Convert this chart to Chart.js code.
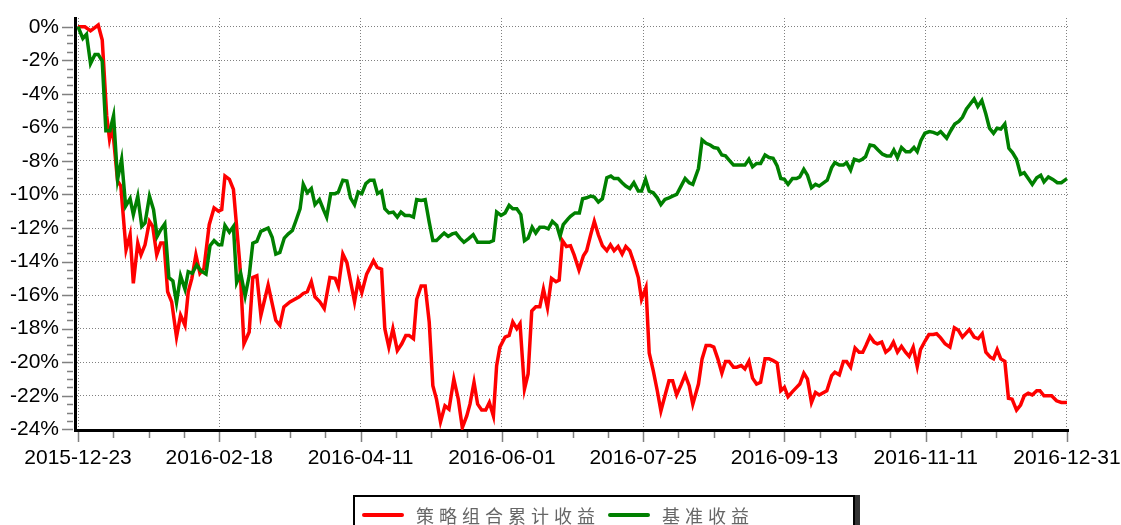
<!DOCTYPE html>
<html>
<head>
<meta charset="utf-8">
<title>累计收益</title>
<script src="https://cdn.jsdelivr.net/npm/chart.js@4.4.1/dist/chart.umd.min.js"></script>
<style>
    html, body { margin: 0; padding: 0; background: #fff; overflow: hidden; }
    #wrap { position: relative; width: 1121px; height: 525px; }
    #legend {
        position: absolute; left: 353px; top: 495px; width: 498px; height: 44px;
        border: 2px solid #000; box-shadow: 5px 0 0 #333; background: #fff;
    }
    #legend .line { position: absolute; top: 16px; width: 42px; height: 4px; border-radius: 2px; }
    #legend .text {
        position: absolute; top: 8px; font: 18px/20px "Noto Sans CJK SC", sans-serif;
        letter-spacing: 5px; color: #666; white-space: nowrap;
    }
</style>
</head>
<body>
<div id="wrap">
    <canvas id="returnChart" width="1121" height="525"></canvas>
    <div id="legend">
        <span class="line" style="left:7px;background:#ff0000"></span>
        <span class="text" style="left:61px">策略组合累计收益</span>
        <span class="line" style="left:253px;background:#008000"></span>
        <span class="text" style="left:307px">基准收益</span>
    </div>
</div>
<script>
// x ticks: trading-day index and date shown under it
const labelDays = [0, 35, 70, 105, 140, 175, 210, 245];
const dateLabels = ['2015-12-23', '2016-02-18', '2016-04-11', '2016-06-01', '2016-07-25', '2016-09-13', '2016-11-11', '2016-12-31'];
const yTicks = [0, -2, -4, -6, -8, -10, -12, -14, -16, -18, -20, -22, -24];

// [day index, cumulative return %]
const redPoints = [
    [0, 0], [1.7, 0], [3.1, -0.25], [5.0, 0.1], [6.0, -0.8], [7.1, -5.3], [7.8, -6.7], [8.5, -5.9],
    [9.8, -9.2], [10.6, -9.5], [11.9, -13.3], [12.9, -12.4], [13.7, -15.3], [14.8, -12.9], [15.6, -13.6],
    [16.6, -13.0], [17.7, -11.6], [18.5, -11.9], [19.5, -13.6], [20.5, -12.9], [21.3, -12.9], [22.2, -15.8],
    [23.2, -16.4], [24.4, -18.5], [25.4, -17.2], [26.5, -17.8], [27.3, -15.8], [28.2, -15.0], [29.2, -13.6],
    [30.2, -14.7], [31.2, -14.4], [32.5, -11.8], [33.7, -10.8], [34.8, -11.0], [35.6, -10.9], [36.4, -8.9],
    [37.5, -9.1], [38.5, -9.7], [40.1, -14.2], [41.1, -18.9], [42.4, -18.2], [43.3, -14.95], [44.3, -14.85],
    [45.3, -17.2], [47.1, -15.4], [49.0, -17.5], [50.0, -17.8], [51.0, -16.7], [52.5, -16.4], [54.8, -16.1],
    [55.8, -15.9], [56.8, -15.8], [57.8, -15.2], [58.7, -16.1], [59.9, -16.4], [61.0, -16.8], [62.4, -14.95],
    [63.7, -15.0], [64.5, -15.5], [65.6, -13.55], [66.6, -14.05], [68.5, -16.4], [69.4, -15.15], [70.3, -15.85],
    [71.5, -14.75], [73.2, -13.95], [74.1, -14.35], [75.2, -14.45], [76.0, -18.0], [77.0, -19.1], [78.0, -18.0],
    [79.1, -19.3], [80.2, -18.9], [81.2, -18.4], [82.0, -18.4], [83.1, -18.6], [83.9, -16.25], [85.0, -15.45],
    [86.0, -15.45], [87.0, -17.6], [87.9, -21.4], [88.8, -22.2], [89.8, -23.55], [90.9, -22.6], [91.9, -22.8],
    [93.1, -21.0], [94.2, -22.2], [95.2, -23.9], [96.3, -23.2], [97.1, -22.5], [98.1, -21.2], [99.0, -22.5],
    [100.0, -22.85], [101.0, -22.85], [101.9, -22.4], [102.9, -23.2], [103.7, -20.2], [104.5, -19.1],
    [105.8, -18.5], [106.8, -18.4], [107.7, -17.6], [108.7, -18.0], [109.5, -17.7], [110.6, -21.6],
    [111.5, -20.7], [112.4, -16.95], [113.4, -16.7], [114.4, -16.7], [115.3, -15.65], [116.3, -16.75],
    [117.3, -15.0], [118.4, -15.2], [119.2, -15.1], [120.0, -12.75], [121.0, -13.1], [122.0, -13.05],
    [122.9, -13.6], [124.1, -14.5], [125.2, -13.65], [126.0, -13.35], [127.0, -12.4], [127.9, -11.6],
    [128.9, -12.4], [129.9, -13.05], [131.0, -13.35], [131.9, -13.0], [132.8, -13.35], [133.8, -13.1],
    [134.8, -13.55], [135.7, -13.1], [136.7, -13.35], [137.7, -14.05], [138.8, -14.95], [139.6, -16.25],
    [140.7, -15.55], [141.5, -19.45], [142.5, -20.5], [143.5, -21.7], [144.4, -22.9], [145.4, -22.0],
    [146.4, -21.1], [147.3, -21.1], [148.3, -21.95], [149.4, -21.35], [150.4, -20.75], [151.4, -21.4],
    [152.3, -22.5], [153.7, -21.3], [154.6, -19.8], [155.6, -19.0], [156.6, -19.0], [157.5, -19.1],
    [158.5, -19.8], [159.5, -20.65], [160.4, -19.95], [161.3, -19.95], [162.4, -20.3], [163.2, -20.3],
    [164.3, -20.2], [165.2, -20.4], [166.2, -19.95], [167.1, -20.95], [168.1, -21.3], [169.1, -21.2],
    [170.2, -19.8], [171.2, -19.8], [172.2, -19.9], [173.2, -20.05], [174.1, -21.7], [175.0, -21.5],
    [175.9, -22.05], [177.0, -21.75], [178.0, -21.5], [178.8, -21.3], [179.8, -20.65], [180.7, -21.0],
    [181.7, -22.4], [182.7, -21.8], [183.6, -21.95], [185.5, -21.7], [186.7, -20.8], [187.5, -20.6],
    [188.6, -20.75], [189.6, -19.95], [190.4, -19.95], [191.4, -20.3], [192.5, -19.15], [193.5, -19.4],
    [194.4, -19.4], [195.2, -19.0], [196.2, -18.45], [197.2, -18.8], [198.0, -18.9], [199.1, -18.8],
    [200.1, -19.4], [201.1, -19.2], [202.0, -18.8], [203.0, -19.4], [204.0, -19.05], [205.0, -19.4],
    [205.9, -19.65], [206.9, -19.1], [207.9, -20.25], [208.7, -19.25], [209.8, -18.75], [210.8, -18.35],
    [211.9, -18.35], [212.7, -18.3], [213.7, -18.55], [214.8, -18.9], [216.0, -19.1], [217.1, -17.95],
    [218.1, -18.1], [219.1, -18.5], [220.8, -18.05], [222.0, -18.5], [223.0, -18.6], [224.0, -18.3],
    [224.9, -19.4], [226.0, -19.7], [226.8, -19.8], [227.7, -19.25], [228.6, -19.8], [229.6, -19.95],
    [230.5, -22.15], [231.4, -22.2], [232.5, -22.85], [233.5, -22.55], [234.4, -22.0], [235.4, -21.85],
    [236.4, -21.95], [237.5, -21.7], [238.3, -21.7], [239.3, -22.0], [241.2, -22.0], [242.4, -22.3],
    [243.6, -22.4], [245.0, -22.4]
];

const greenPoints = [
    [0, 0], [1.2, -0.7], [2.1, -0.45], [3.1, -2.2], [4.2, -1.65], [5.0, -1.65], [6.0, -2.05], [6.9, -6.2],
    [7.9, -6.2], [8.8, -5.3], [9.8, -9.1], [10.8, -7.9], [11.8, -10.7], [12.9, -10.25], [13.7, -11.2],
    [14.8, -10.1], [15.8, -11.9], [16.6, -11.7], [17.7, -10.1], [18.7, -10.9], [19.6, -12.5], [20.5, -12.1],
    [21.5, -11.75], [22.5, -14.95], [23.5, -15.15], [24.4, -16.45], [25.4, -14.85], [26.5, -15.65],
    [27.3, -14.6], [28.3, -14.7], [29.4, -14.2], [30.4, -14.55], [31.7, -14.75], [32.7, -13.05],
    [33.7, -12.75], [34.8, -13.0], [35.6, -13.0], [36.4, -11.85], [37.5, -12.25], [38.5, -11.9],
    [39.3, -15.25], [40.3, -14.7], [41.4, -16.05], [42.4, -14.85], [43.3, -12.9], [44.3, -12.8],
    [45.3, -12.2], [47.1, -12.0], [48.1, -12.55], [49.0, -13.55], [50.0, -13.45], [51.1, -12.6],
    [52.1, -12.35], [53.1, -12.15], [54.0, -11.55], [55.0, -10.85], [55.8, -9.4], [56.8, -9.9],
    [57.8, -9.65], [58.7, -10.6], [59.8, -10.3], [60.8, -10.9], [61.6, -11.35], [62.6, -9.95],
    [63.7, -9.95], [64.5, -9.85], [65.6, -9.15], [66.6, -9.2], [67.5, -10.2], [68.5, -10.6], [69.4, -9.85],
    [70.3, -9.95], [71.3, -9.35], [72.3, -9.15], [73.3, -9.15], [74.2, -9.95], [75.2, -9.8], [76.0, -10.85],
    [77.0, -11.1], [78.1, -11.05], [79.1, -11.35], [80.0, -11.05], [81.0, -11.25], [82.1, -11.25],
    [83.1, -11.35], [83.9, -10.3], [85.0, -10.35], [86.0, -10.3], [87.0, -11.65], [87.9, -12.75],
    [88.8, -12.75], [89.8, -12.5], [90.7, -12.3], [91.7, -12.5], [92.7, -12.35], [93.6, -12.3],
    [94.6, -12.6], [95.6, -12.85], [96.7, -12.65], [97.9, -12.4], [99.0, -12.85], [100.8, -12.85],
    [101.9, -12.85], [102.9, -12.75], [103.7, -11.05], [104.8, -11.25], [105.8, -11.1], [106.8, -10.65],
    [107.7, -10.85], [108.7, -10.85], [109.7, -11.2], [110.6, -12.75], [111.5, -12.6], [112.5, -11.95],
    [113.4, -12.3], [114.4, -11.95], [115.5, -11.95], [116.5, -12.05], [117.5, -11.6], [118.6, -11.85],
    [119.4, -12.5], [120.2, -11.8], [121.4, -11.45], [122.0, -11.3], [123.1, -11.1], [124.2, -11.1],
    [125.0, -10.25], [126.0, -10.2], [127.0, -10.1], [127.9, -10.15], [128.9, -10.45], [129.9, -10.25],
    [131.0, -9.0], [132.0, -8.9], [132.8, -9.05], [133.8, -9.05], [134.8, -9.3], [135.7, -9.5],
    [136.7, -9.65], [137.7, -9.3], [138.8, -9.8], [139.6, -9.8], [140.6, -9.1], [141.5, -9.8],
    [142.5, -9.9], [143.5, -10.2], [144.4, -10.6], [145.4, -10.3], [146.4, -10.2], [147.3, -10.1],
    [148.3, -10.0], [149.4, -9.5], [150.4, -9.05], [151.4, -9.3], [152.3, -9.4], [153.7, -8.45],
    [154.6, -6.75], [155.6, -6.95], [156.6, -7.05], [157.5, -7.2], [158.5, -7.25], [159.5, -7.65],
    [160.4, -7.7], [161.3, -7.95], [162.4, -8.25], [163.2, -8.25], [164.3, -8.25], [165.2, -8.25],
    [166.2, -7.9], [167.1, -8.35], [168.1, -8.15], [169.1, -8.15], [170.2, -7.65], [171.2, -7.8],
    [172.2, -7.85], [173.2, -8.3], [174.1, -9.05], [175.0, -9.1], [175.9, -9.4], [177.0, -9.05],
    [178.0, -9.05], [178.8, -8.95], [179.8, -8.5], [180.7, -8.85], [181.7, -9.6], [182.7, -9.4],
    [183.6, -9.5], [185.6, -9.15], [186.7, -8.4], [187.5, -8.1], [188.6, -8.25], [189.6, -8.25],
    [190.4, -8.1], [191.4, -8.55], [192.3, -7.9], [193.5, -8.0], [194.3, -7.9], [195.1, -7.75],
    [196.2, -7.05], [197.2, -7.1], [198.2, -7.35], [199.3, -7.6], [200.3, -7.7], [201.3, -7.7],
    [202.1, -7.35], [203.0, -7.8], [204.0, -7.2], [205.1, -7.45], [206.1, -7.45], [207.1, -7.2],
    [207.9, -7.45], [208.8, -6.8], [209.8, -6.35], [210.9, -6.25], [211.9, -6.3], [212.9, -6.4],
    [213.7, -6.25], [215.2, -6.65], [216.2, -6.2], [217.2, -5.8], [218.2, -5.65], [219.1, -5.4],
    [220.1, -4.9], [220.9, -4.65], [222.0, -4.3], [222.9, -4.75], [223.9, -4.4], [224.9, -5.2],
    [225.8, -6.05], [226.8, -6.35], [227.7, -6.05], [228.6, -6.1], [229.6, -5.8], [230.6, -7.25],
    [231.5, -7.5], [232.5, -7.9], [233.5, -8.8], [234.4, -8.7], [235.4, -9.05], [236.4, -9.4],
    [237.5, -9.0], [238.5, -8.85], [239.3, -9.25], [240.4, -8.95], [241.5, -9.1], [242.6, -9.3],
    [243.6, -9.3], [245.0, -9.05]
];

const labelFont = { family: '"Liberation Sans", Arial, sans-serif', size: 21 };

// gray tick marks on both axes, major plus minor
const axisTicks = {
    id: 'axisTicks',
    afterDraw(chart) {
        const { ctx, chartArea } = chart;
        const x = chart.scales.x, y = chart.scales.y;
        ctx.save();
        ctx.strokeStyle = '#808080';
        ctx.lineWidth = 1.5;
        ctx.beginPath();
        for (let v = 0; v >= -24; v -= 0.5) {
            const py = Math.round(y.getPixelForValue(v)) + 0.5;
            const len = v % 2 === 0 ? 11 : 6;
            ctx.moveTo(chartArea.left - 2 - len, py);
            ctx.lineTo(chartArea.left - 2, py);
        }
        for (let k = 0; k <= 28; k++) {
            const px = Math.round(x.getPixelForValue(k * 8.75)) + 0.5;
            const len = k % 4 === 0 ? 10 : 6;
            ctx.moveTo(px, chartArea.bottom + 2);
            ctx.lineTo(px, chartArea.bottom + 2 + len);
        }
        ctx.stroke();
        ctx.restore();
    }
};

function toXY(points) {
    return points.map(p => ({ x: p[0], y: p[1] }));
}

const ctx = document.getElementById('returnChart').getContext('2d');
const returnChart = new Chart(ctx, {
    type: 'line',
    data: {
        datasets: [
            {
                label: '策略组合累计收益',
                data: toXY(redPoints),
                borderColor: '#ff0000',
                borderWidth: 3.5,
                pointRadius: 0,
                tension: 0,
                order: 1
            },
            {
                label: '基准收益',
                data: toXY(greenPoints),
                borderColor: '#008000',
                borderWidth: 3.5,
                pointRadius: 0,
                tension: 0,
                order: 0
            }
        ]
    },
    options: {
        responsive: false,
        animation: false,
        events: [],
        layout: { padding: { top: 18, right: 53, left: 0, bottom: 0 } },
        plugins: {
            legend: { display: false },
            tooltip: { enabled: false }
        },
        scales: {
            x: {
                type: 'linear',
                min: -0.75,
                max: 245.25,
                afterBuildTicks: scale => { scale.ticks = labelDays.map(v => ({ value: v })); },
                afterFit: scale => { scale.height = 95; scale.paddingLeft = 0; scale.paddingRight = 0; },
                ticks: {
                    autoSkip: false,
                    maxRotation: 0,
                    minRotation: 0,
                    padding: 16,
                    color: '#000',
                    font: labelFont,
                    callback: (value, index) => dateLabels[index]
                },
                grid: { color: '#808080', lineWidth: 1, drawTicks: false },
                border: { display: true, color: '#000', width: 3, dash: [1, 2] }
            },
            y: {
                type: 'linear',
                min: -24.04,
                max: 0.52,
                afterBuildTicks: scale => { scale.ticks = yTicks.map(v => ({ value: v })); },
                afterFit: scale => { scale.width = 75; scale.paddingTop = 0; scale.paddingBottom = 0; },
                ticks: {
                    padding: 16,
                    color: '#000',
                    font: labelFont,
                    callback: value => (value === 0 ? '0' : value) + '%'
                },
                grid: { color: '#808080', lineWidth: 1, drawTicks: false },
                border: { display: true, color: '#000', width: 3, dash: [1, 2] }
            }
        }
    },
    plugins: [axisTicks]
});
</script>
</body>
</html>
